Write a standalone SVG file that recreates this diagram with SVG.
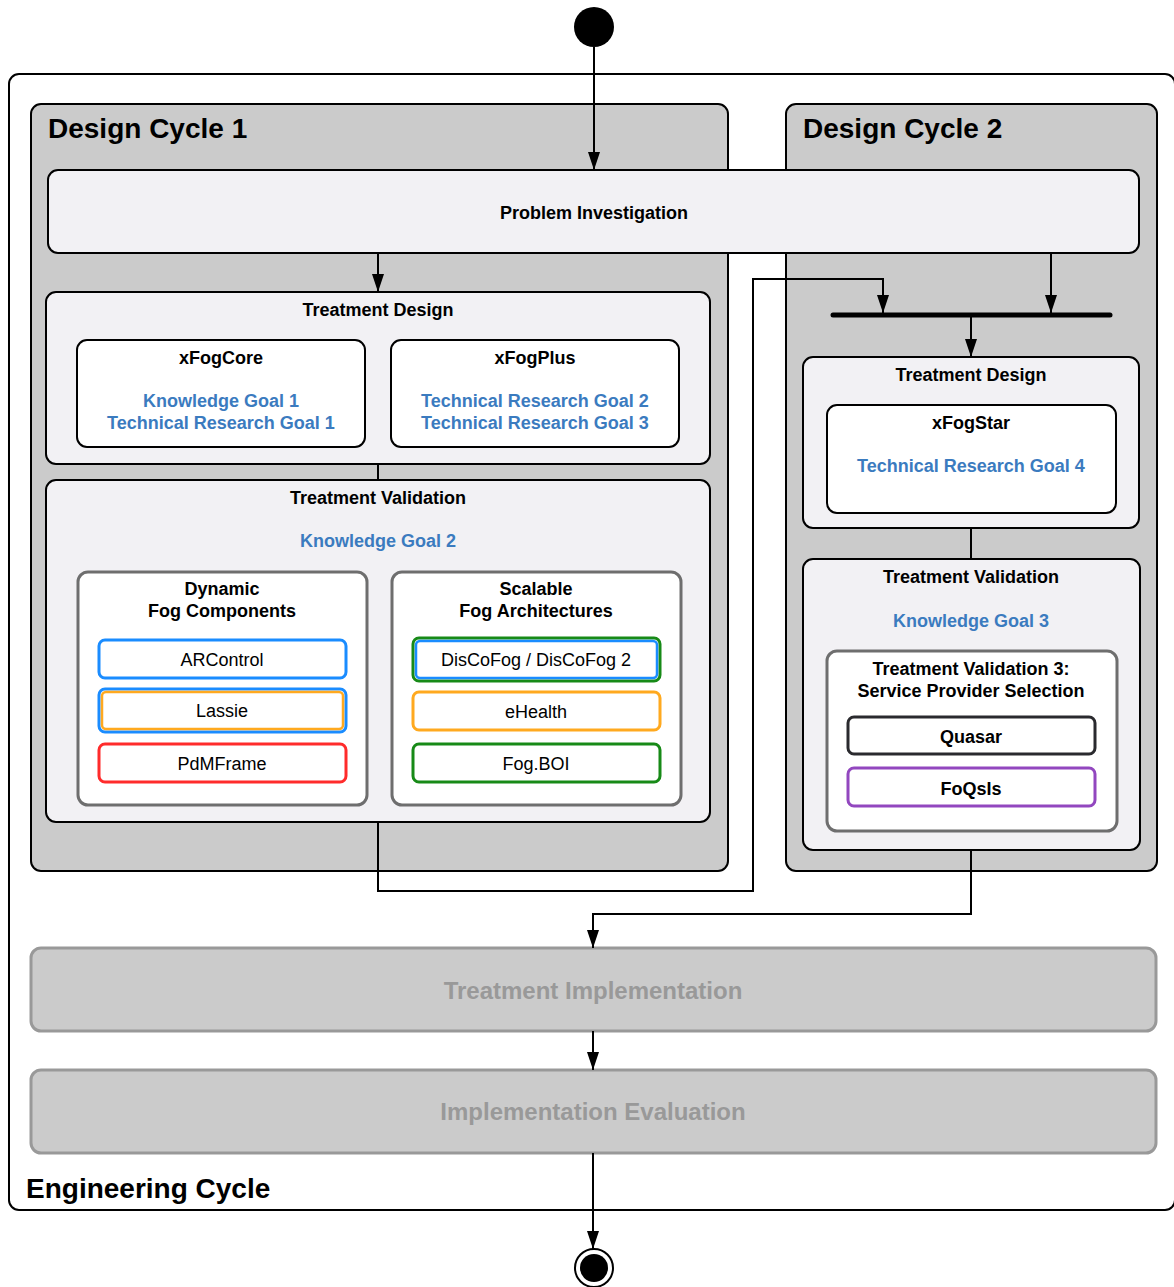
<svg xmlns="http://www.w3.org/2000/svg" width="1174" height="1287" viewBox="0 0 1174 1287">
  <style>
    text { font-family: "Liberation Sans", Arial, Helvetica, sans-serif; text-anchor: middle; dominant-baseline: central; }
    .cycle { fill: #cbcbcb; stroke: #000; stroke-width: 2; }
    .title { font-size: 28px; font-weight: bold; text-anchor: start; fill: #000; }
    .phase { fill: #f2f1f4; stroke: #000; stroke-width: 2; }
    .card { fill: #fff; stroke: #000; stroke-width: 2; }
    .group { fill: #fff; stroke: #6e6e6e; stroke-width: 3; }
    .h { font-size: 18px; font-weight: bold; fill: #000; }
    .goal { font-size: 18px; font-weight: bold; fill: #3b7bbf; }
    .item { font-size: 18px; fill: #000; }
    .later { fill: #cbcbcb; stroke: #999; stroke-width: 3; }
    .later-t { font-size: 24px; font-weight: bold; fill: #999; }
    .edge { fill: none; stroke: #000; stroke-width: 2; }
    .tag { fill: #fff; stroke-width: 3; }
  </style>
  <defs>
    <marker id="arrow" viewBox="0 0 18 12" refX="18" refY="6" markerWidth="18" markerHeight="12" markerUnits="userSpaceOnUse" orient="auto">
      <path d="M0,0 L18,6 L0,12 Z" fill="#000"/>
    </marker>
  </defs>

  <!-- outer engineering cycle -->
  <g id="engineering-cycle">
    <rect x="9" y="74" width="1166" height="1136" rx="10" fill="#fff" stroke="#000" stroke-width="2"/>
    <text class="title" x="26" y="1188">Engineering Cycle</text>
  </g>

  <!-- design cycle 1 -->
  <g id="design-cycle-1">
    <rect class="cycle" x="31" y="104" width="697" height="767" rx="10"/>
    <text class="title" x="48" y="128">Design Cycle 1</text>
  </g>

  <!-- design cycle 2 -->
  <g id="design-cycle-2">
    <rect class="cycle" x="786" y="104" width="371" height="767" rx="10"/>
    <text class="title" x="803" y="128">Design Cycle 2</text>
  </g>

  <g id="start">
    <circle cx="594" cy="27" r="20" fill="#000"/>
  </g>

  <g id="problem-investigation">
    <rect class="phase" x="48" y="170" width="1091" height="83" rx="10"/>
    <text class="h" x="594" y="213">Problem Investigation</text>
  </g>

  <!-- design cycle 1: treatment design -->
  <g id="treatment-design-1">
    <rect class="phase" x="46" y="292" width="664" height="172" rx="10"/>
    <text class="h" x="378" y="310">Treatment Design</text>
  </g>
  <g id="xfogcore">
    <rect class="card" x="77" y="340" width="288" height="107" rx="10"/>
    <text class="h" x="221" y="358">xFogCore</text>
    <text class="goal" x="221" y="401">Knowledge Goal 1</text>
    <text class="goal" x="221" y="423">Technical Research Goal 1</text>
  </g>
  <g id="xfogplus">
    <rect class="card" x="391" y="340" width="288" height="107" rx="10"/>
    <text class="h" x="535" y="358">xFogPlus</text>
    <text class="goal" x="535" y="401">Technical Research Goal 2</text>
    <text class="goal" x="535" y="423">Technical Research Goal 3</text>
  </g>

  <!-- design cycle 1: treatment validation -->
  <g id="treatment-validation-1">
    <rect class="phase" x="46" y="480" width="664" height="342" rx="10"/>
    <text class="h" x="378" y="498">Treatment Validation</text>
    <text class="goal" x="378" y="541">Knowledge Goal 2</text>
  </g>
  <g id="dynamic-fog-components">
    <rect class="group" x="78" y="572" width="289" height="233" rx="10"/>
    <text class="h" x="222" y="589">Dynamic</text>
    <text class="h" x="222" y="611">Fog Components</text>
  </g>
  <g id="arcontrol">
    <rect class="tag" x="99" y="640" width="247" height="38" rx="6" stroke="#1a8cff"/>
    <text class="item" x="222" y="660">ARControl</text>
  </g>
  <g id="lassie">
    <rect class="tag" x="99" y="689" width="247" height="43" rx="6" stroke="#1a8cff"/>
    <rect x="102" y="692" width="241" height="37" rx="4" fill="none" stroke="#ffa91f" stroke-width="2.5"/>
    <text class="item" x="222" y="711">Lassie</text>
  </g>
  <g id="pdmframe">
    <rect class="tag" x="99" y="744" width="247" height="38" rx="6" stroke="#ff2b2b"/>
    <text class="item" x="222" y="764">PdMFrame</text>
  </g>
  <g id="scalable-fog-architectures">
    <rect class="group" x="392" y="572" width="289" height="233" rx="10"/>
    <text class="h" x="536" y="589">Scalable</text>
    <text class="h" x="536" y="611">Fog Architectures</text>
  </g>
  <g id="discofog">
    <rect class="tag" x="413" y="638" width="247" height="43" rx="6" stroke="#178a17"/>
    <rect x="416" y="641" width="241" height="37" rx="4" fill="none" stroke="#1a8cff" stroke-width="2.5"/>
    <text class="item" x="536" y="660">DisCoFog / DisCoFog 2</text>
  </g>
  <g id="ehealth">
    <rect class="tag" x="413" y="692" width="247" height="38" rx="6" stroke="#ffa91f"/>
    <text class="item" x="536" y="712">eHealth</text>
  </g>
  <g id="fog-boi">
    <rect class="tag" x="413" y="744" width="247" height="38" rx="6" stroke="#178a17"/>
    <text class="item" x="536" y="764">Fog.BOI</text>
  </g>

  <!-- design cycle 2 -->
  <g id="join-bar">
    <line x1="833" y1="315" x2="1110" y2="315" stroke="#000" stroke-width="5" stroke-linecap="round"/>
  </g>
  <g id="treatment-design-2">
    <rect class="phase" x="803" y="357" width="336" height="171" rx="10"/>
    <text class="h" x="971" y="375">Treatment Design</text>
  </g>
  <g id="xfogstar">
    <rect class="card" x="827" y="405" width="289" height="108" rx="10"/>
    <text class="h" x="971" y="423">xFogStar</text>
    <text class="goal" x="971" y="466">Technical Research Goal 4</text>
  </g>
  <g id="treatment-validation-2">
    <rect class="phase" x="803" y="559" width="337" height="291" rx="10"/>
    <text class="h" x="971" y="577">Treatment Validation</text>
    <text class="goal" x="971" y="621">Knowledge Goal 3</text>
  </g>
  <g id="service-provider-selection">
    <rect class="group" x="827" y="651" width="290" height="180" rx="10"/>
    <text class="h" x="971" y="669">Treatment Validation 3:</text>
    <text class="h" x="971" y="691">Service Provider Selection</text>
  </g>
  <g id="quasar">
    <rect class="tag" x="848" y="717" width="247" height="37" rx="6" stroke="#2a2a2e"/>
    <text class="h" x="971" y="737">Quasar</text>
  </g>
  <g id="foqsis">
    <rect class="tag" x="848" y="768" width="247" height="38" rx="6" stroke="#9247bf"/>
    <text class="h" x="971" y="789">FoQsIs</text>
  </g>

  <!-- later phases -->
  <g id="treatment-implementation">
    <rect class="later" x="31" y="948" width="1125" height="83" rx="10"/>
    <text class="later-t" x="593" y="990">Treatment Implementation</text>
  </g>
  <g id="implementation-evaluation">
    <rect class="later" x="31" y="1070" width="1125" height="83" rx="10"/>
    <text class="later-t" x="593" y="1111">Implementation Evaluation</text>
  </g>

  <g id="end">
    <circle cx="594" cy="1268" r="19" fill="#fff" stroke="#000" stroke-width="2"/>
    <circle cx="594" cy="1268" r="14" fill="#000"/>
  </g>

  <!-- connectors -->
  <g id="connectors">
    <path class="edge" d="M594,47 V170" marker-end="url(#arrow)"/>
    <path class="edge" d="M378,253 V292" marker-end="url(#arrow)"/>
    <path class="edge" d="M378,464 V480"/>
    <path class="edge" d="M378,822 V891 H753 V279 H883 V313" marker-end="url(#arrow)"/>
    <path class="edge" d="M1051,253 V313" marker-end="url(#arrow)"/>
    <path class="edge" d="M971,317 V357" marker-end="url(#arrow)"/>
    <path class="edge" d="M971,528 V559"/>
    <path class="edge" d="M971,850 V914 H593 V948" marker-end="url(#arrow)"/>
    <path class="edge" d="M593,1031 V1070" marker-end="url(#arrow)"/>
    <path class="edge" d="M593,1153 V1249" marker-end="url(#arrow)"/>
  </g>
</svg>
